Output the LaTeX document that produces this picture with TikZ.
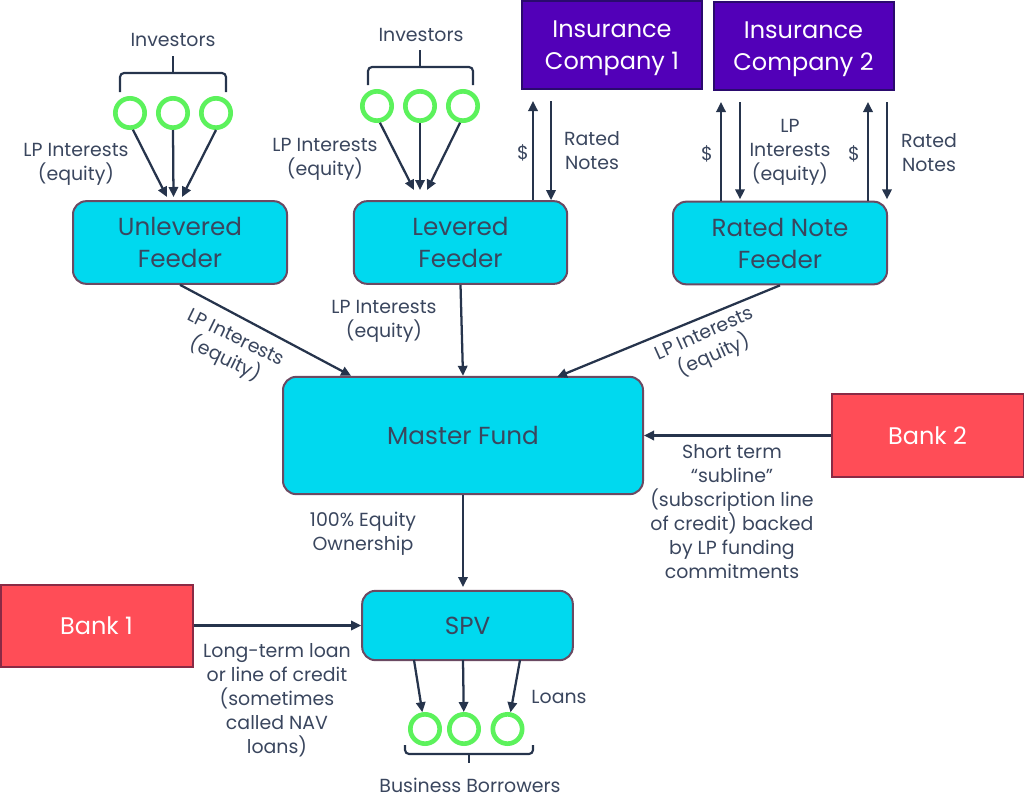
\documentclass[tikz,border=0pt]{standalone}
\usepackage{fontspec}
\setmainfont{Poppins}
\usepackage{tikz}
\usetikzlibrary{arrows.meta, positioning, shapes}
\definecolor{inkcolor}{HTML}{3A465E}
\definecolor{arrowcolor}{HTML}{26344C}
\definecolor{feedercolor}{HTML}{00D9EF}
\definecolor{feederedge}{HTML}{6B4A62}
\definecolor{insurercolor}{HTML}{5200B8}
\definecolor{insureredge}{HTML}{2A0A6E}
\definecolor{bankcolor}{HTML}{FF4D57}
\definecolor{bankedge}{HTML}{8A2A45}
\definecolor{holdercolor}{HTML}{5CF25C}
\tikzset{
	feederbox/.style = {draw=feederedge,fill=feedercolor,line width=1.5pt,rounded corners=10pt,align=center,text=inkcolor,font=\fontsize{18.5}{24}\selectfont,inner sep=0pt},
	insurerbox/.style = {draw=insureredge,fill=insurercolor,line width=1.5pt,align=center,text=white,font=\fontsize{18}{24}\selectfont,minimum width=135pt,minimum height=66pt,inner sep=0pt},
	bankbox/.style = {draw=bankedge,fill=bankcolor,line width=1.5pt,text=white,font=\fontsize{18}{20}\selectfont,minimum width=144pt,minimum height=62pt,inner sep=0pt},
	holder/.style = {circle,draw=holdercolor,line width=3.5pt,minimum size=22pt,inner sep=0pt},
	flow/.style = {draw=arrowcolor,line width=1.7pt,-{Triangle[width=7pt,length=7.5pt]}},
	bracket/.style = {draw=arrowcolor,line width=1.6pt,rounded corners=3pt},
	tag/.style = {align=center,text=inkcolor,font=\fontsize{14.2}{18}\selectfont,inner sep=0pt}
}
\NewDocumentCommand{\fbracket}{m m m m m m}{%
	\draw[bracket] (#1,#4) -- (#1,#5) -- (#3,#5) -- (#3,#4);
	\draw[bracket] (#2,#5) -- (#2,#6);
}
\begin{document}
\begin{tikzpicture}[x=0.75pt,y=-0.75pt]
\useasboundingbox (0,0) rectangle (1024,810);
% boxes
\node[feederbox,minimum width=160.5pt,minimum height=62pt] (unlevered) at (180,242.5) {Unlevered\\Feeder};
\node[feederbox,minimum width=160pt,minimum height=62pt] (levered) at (460.5,242.5) {Levered\\Feeder};
\node[feederbox,minimum width=160.5pt,minimum height=62pt] (rated) at (780,243) {Rated Note\\Feeder};
\node[feederbox,minimum width=270pt,minimum height=88pt] (master) at (463,435.5) {Master Fund};
\node[feederbox,minimum width=158pt,minimum height=52pt] (spv) at (467.5,625.5) {SPV};
\node[insurerbox] (insurerone) at (612,44.5) {\rule{0pt}{18pt}Insurance\\Company 1};
\node[insurerbox] (insurertwo) at (803.5,45.5) {\rule{0pt}{18pt}Insurance\\Company 2};
\node[bankbox] (bankone) at (96.5,626) {Bank 1};
\node[bankbox] (banktwo) at (927.5,435.5) {Bank 2};
% circles
\foreach \name/\xpos/\ypos in {ia/130/113,ib/173/113,ic/216/113,id/377/106,ie/420/106,ig/463/106,ba/425/729,bb/464/729,bc/507.5/729}
	\node[holder] (\name) at (\xpos,\ypos) {};
\fbracket{120}{173}{226}{92}{73}{56}
\fbracket{368}{420}{473}{85}{67}{50}
\fbracket{405}{469}{533}{745}{754}{763}
% free ends
\coordinate (ua) at (167,197);
\coordinate (ub) at (173.5,197);
\coordinate (uc) at (182,197);
\coordinate (la) at (414,190);
\coordinate (lb) at (420,190);
\coordinate (lc) at (427,190);
\coordinate (na) at (533,101);
\coordinate (nb) at (551,101);
\coordinate (nc) at (721,102);
\coordinate (nd) at (740,102);
\coordinate (ne) at (868,102);
\coordinate (nf) at (887,102);
\coordinate (mr) at (557,377);
\coordinate (ms) at (463,587);
\coordinate (sa) at (414,660);
\coordinate (sb) at (463,660);
\coordinate (sc) at (520,660);
% arrows
\draw[flow] (ia.-80) -- (ua);
\draw[flow] (ib.-90) -- (ub);
\draw[flow] (ic.-90) -- (uc);
\draw[flow] (id.-80) -- (la);
\draw[flow] (ie.-90) -- (lb);
\draw[flow] (ig.-100) -- (lc);
\draw[flow] (levered.north -| na) -- (na);
\draw[flow] (nb) -- (nb |- levered.north);
\draw[flow] (rated.north -| nc) -- (nc);
\draw[flow] (nd) -- ([yshift=1pt]nd |- rated.north);
\draw[flow] (rated.north -| ne) -- (ne);
\draw[flow] (nf) -- ([yshift=1pt]nf |- rated.north);
\draw[flow] (unlevered.south) -- (master);
\draw[flow] (levered.south) -- (master.north);
\draw[flow] (rated.south) -- (mr);
\draw[flow] (banktwo.west) -- (master.east);
\draw[flow] (master.south) -- (ms);
\draw[flow] (bankone.east |- spv.west) -- (spv.west);
\draw[flow] (sa) -- (ba);
\draw[flow] (sb) -- (bb);
\draw[flow] (sc) -- (bc);
% labels
\node[tag] (investorsa) at (173,40) {Investors};
\node[tag] (investorsb) at (421,35) {Investors};
\node[tag] (lpa) at (76,164) {LP Interests\\(equity)};
\node[tag] (lpb) at (325,159) {LP Interests\\(equity)};
\node[tag] (lpc) at (790,152) {LP\\Interests\\(equity)};
\node[tag] (lpd) at (384,321) {LP Interests\\(equity)};
\node[tag,rotate=-26] (lpe) at (230,350) {LP Interests\\(equity)};
\node[tag,rotate=24] (lpf) at (710,346) {LP Interests\\(equity)};
\node[tag] (cashone) at (523,153) {\$};
\node[tag] (cashtwo) at (707,154) {\$};
\node[tag] (cashthree) at (854,154) {\$};
\node[tag] (notesone) at (592,151) {Rated\\Notes};
\node[tag] (notestwo) at (929,153) {Rated\\Notes};
\node[tag] (ownership) at (363,534) {100\% Equity\\Ownership};
\node[tag] (subline) at (732,512) {Short term\\“subline”\\(subscription line\\of credit) backed\\by LP funding\\commitments};
\node[tag] (navloan) at (277,700) {Long-term loan\\or line of credit\\(sometimes\\called NAV\\loans)};
\node[tag] (loans) at (559,697) {Loans};
\node[tag] (borrowers) at (470,785) {Business Borrowers};
\end{tikzpicture}
\end{document}
